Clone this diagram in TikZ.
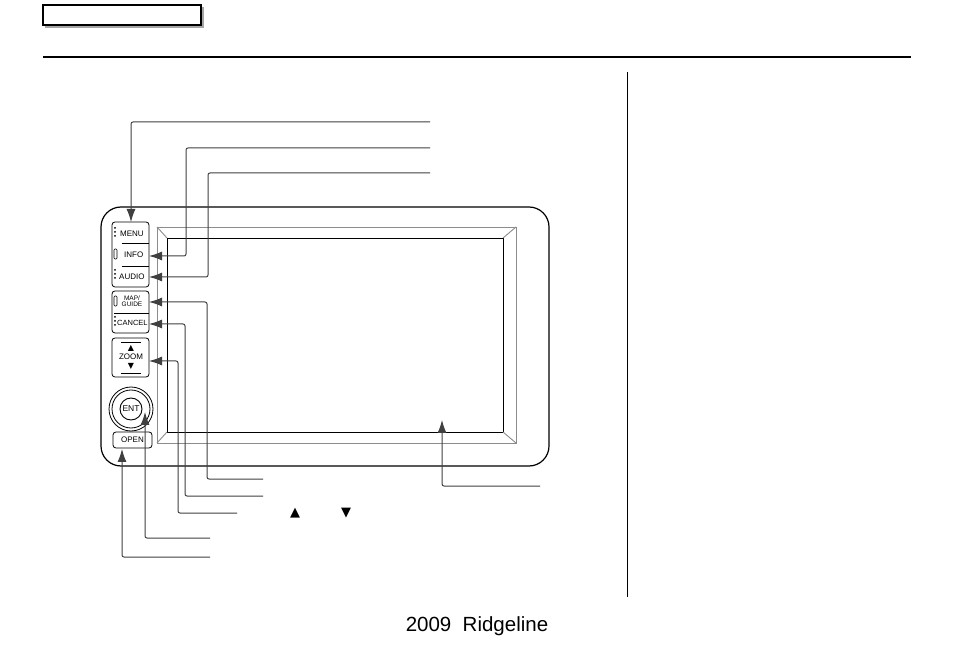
\documentclass[tikz,border=0pt]{standalone}
\usepackage{fontspec}
\setmainfont{Liberation Sans}
\newfontfamily\symfont{DejaVu Sans}
\usetikzlibrary{arrows.meta}

\begin{document}
\begin{tikzpicture}[x=1pt,y=-1pt]
    \tikzstyle{leader}=[draw=black!75, line width=1pt, rounded corners=2pt, -{Latex[length=13pt,width=9pt]}]
    \tikzstyle{btn}=[font=\fontsize{8}{8}\selectfont, inner sep=0pt]
    \tikzstyle{key}=[draw, line width=0.8pt, rounded corners=3pt]
    \fill[white] (0,0) rectangle (954,652);
    \useasboundingbox (0,0) rectangle (954,652);

    % page header and separator
    \fill[black!35] (45,7) rectangle (204,28);
    \draw[line width=2pt, fill=white] (43,5) rectangle (201,25);
    \draw[line width=2pt] (43,57) -- (911,57);
    \draw[line width=0.9pt] (627,72) -- (627,597);
    \node[font=\fontsize{20.5}{24}\selectfont] (foot) at (477,626) {2009\ \ Ridgeline};

    % bezel and screen
    \draw[line width=1.2pt, rounded corners=20pt] (101,207) rectangle (549,466);
    \draw[black!45, line width=0.9pt] (157,227) rectangle (516,443);
    \draw[line width=0.9pt] (167,238) rectangle (503,432);
    \draw[black!45, line width=0.9pt] (157,227) -- (167,238) (516,227) -- (503,238)
                                    (157,443) -- (167,432) (516,443) -- (503,432);
    \coordinate (screen) at (442,420);

    % buttons
    \draw[key] (112,222) rectangle (149,287);
    \draw[key] (112,291) rectangle (149,333);
    \draw[key] (112,338) rectangle (149,377);
    \draw[line width=0.7pt] (114,313) -- (149,313) (122,243) -- (149,243) (122,266) -- (149,266);
    \node[btn, anchor=west] (menu) at (120,234) {MENU};
    \node[btn, anchor=west] (info) at (124,255) {INFO};
    \node[btn, anchor=west] (audio) at (119,277) {AUDIO};
    \node[btn, align=center, font=\fontsize{6.5}{6.5}\selectfont] (map) at (132,301) {MAP/\\GUIDE};
    \node[btn, anchor=west, font=\fontsize{7.5}{8}\selectfont] (cancel) at (117,323) {CANCEL};
    \node[btn] (zoom) at (131,357) {ZOOM};
    \node[btn, font=\symfont\fontsize{8}{8}\selectfont] (zup) at (131,348) {▲};
    \node[btn, font=\symfont\fontsize{8}{8}\selectfont] (zdn) at (131,366) {▼};
    \draw[line width=0.7pt] (121,342) -- (141,342) (121,373) -- (141,373);
    \draw[line width=0.8pt] (131,409) circle (22) (131,409) circle (19);
    \draw[line width=0.9pt] (131,409) circle (11);
    \node[btn, font=\fontsize{8.5}{9}\selectfont] (ent) at (131,409) {ENT};
    \draw[key] (113,432) rectangle (152,448);
    \node[btn] (open) at (132.5,440) {OPEN};
    \foreach \y in {228,232,236,270,274,278,317,321,325}
      \fill (115,\y) circle (1);
    \draw[line width=0.7pt, rounded corners=1pt] (114,249) rectangle (117,259) (114,296) rectangle (117,306);

    % leaders
    \coordinate (l1) at (430,122);
    \coordinate (l2) at (430,148);
    \coordinate (l3) at (430,173);
    \coordinate (l4) at (263,479);
    \coordinate (l5) at (263,496);
    \coordinate (l6) at (237,513);
    \coordinate (l7) at (210,538);
    \coordinate (l8) at (210,557);
    \coordinate (l9) at (540,486);
    \draw[leader] (l1) -| (131,222);
    \draw[leader] (l2) -| (186,256) -- (149,256);
    \draw[leader] (l3) -| (208,277) -- (149,277);
    \draw[leader] (l4) -| (207,302) -- (149,302);
    \draw[leader] (l5) -| (185,324) -- (149,324);
    \draw[leader] (l6) -| (178,361) -- (149,361);
    \draw[leader] (l7) -| (145,412);
    \draw[leader] (l8) -| (122,449);
    \draw[leader] (l9) -| (screen);
    \node[font=\symfont\fontsize{13}{13}\selectfont] (up) at (295,513) {▲};
    \node[font=\symfont\fontsize{13}{13}\selectfont] (down) at (346,513) {▼};
\end{tikzpicture}
\end{document}
